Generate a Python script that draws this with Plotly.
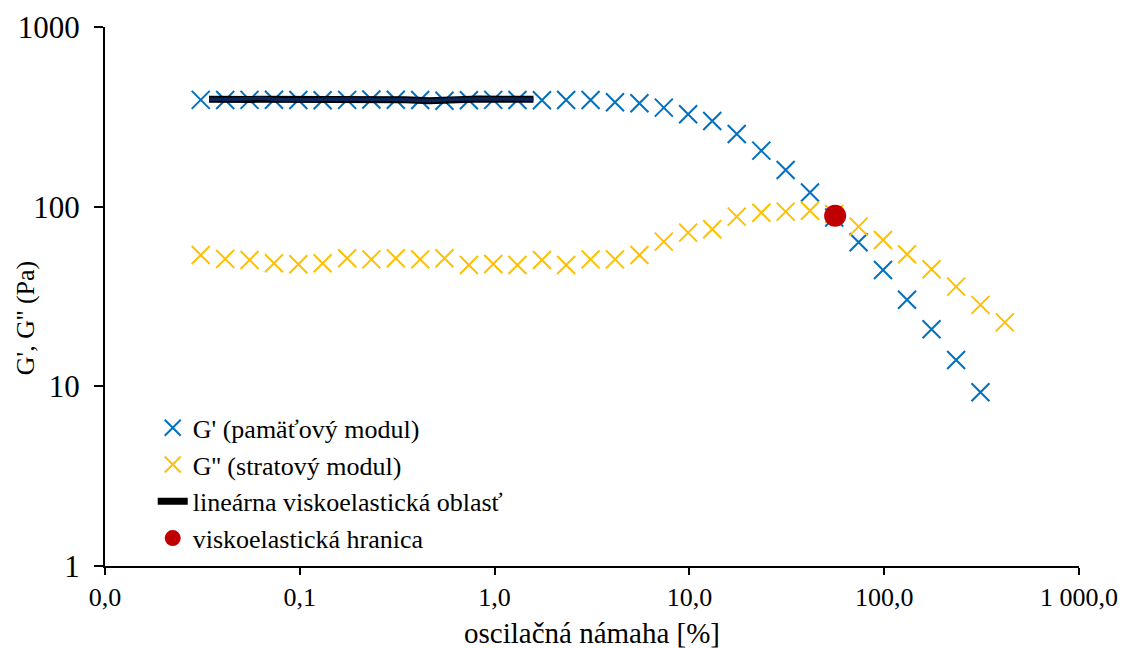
import plotly.graph_objects as go

# strain [%] for G' and G'' measurements
strain = [0.031, 0.0414, 0.0552, 0.0737, 0.0983, 0.131, 0.175, 0.233, 0.311, 0.415,
          0.553, 0.738, 0.984, 1.31, 1.75, 2.33, 3.11, 4.15, 5.54, 7.39,
          9.85, 13.1, 17.5, 23.4, 31.2, 41.6, 55.4, 73.9, 98.6, 131,
          175, 234, 312, 416]

g_storage = [393, 392, 393, 394, 392, 391, 393, 395, 394, 392,
             389, 391, 393, 392, 391, 392, 392, 381, 376, 356,
             327, 300, 254, 205, 160, 120, 87, 63.4, 44.4, 30.3,
             20.8, 14.0, 9.27]

g_loss = [53.8, 51.2, 50.5, 48.4, 47.8, 48.4, 51.6, 50.9, 51.6, 50.9,
          51.6, 47.4, 48.0, 47.4, 50.5, 47.4, 50.9, 50.9, 53.8, 63.9,
          71.7, 74.9, 88.0, 92.6, 93.8, 95.0, 91, 77.4, 65.3, 54.3,
          44.8, 35.9, 28.4, 22.7]

# linear viscoelastic region line
lve_x = [0.0342, 0.0460, 0.0619, 0.0832, 0.1117, 0.1466, 0.1950, 0.2618,
         0.3480, 0.4624, 0.6214, 0.8260, 1.0965, 1.5828]
lve_y = [396, 396, 401, 394, 394, 398, 396, 396, 394, 389, 396, 398, 396, 396]

# viscoelastic limit
limit_x = [56.0]
limit_y = [89.0]

x_ticks = [0.01, 0.1, 1, 10, 100, 1000]
x_ticklabels = ["0,0", "0,1", "1,0", "10,0", "100,0", "1 000,0"]
y_ticks = [1, 10, 100, 1000]
y_ticklabels = ["1", "10", "100", "1000"]

FONT = "Liberation Serif, Times New Roman, serif"

fig = go.Figure()
fig.add_trace(go.Scatter(
    x=strain[:len(g_storage)], y=g_storage, mode="markers",
    name="G' (pamäťový modul)",
    marker=dict(symbol="x-thin", size=18, color="#0070C0",
                line=dict(color="#0070C0", width=2)),
))
fig.add_trace(go.Scatter(
    x=strain, y=g_loss, mode="markers",
    name="G'' (stratový modul)",
    marker=dict(symbol="x-thin", size=18, color="#FFC000",
                line=dict(color="#FFC000", width=2)),
))
fig.add_trace(go.Scatter(
    x=lve_x, y=lve_y, mode="lines",
    name="lineárna viskoelastická oblasť",
    line=dict(color="black", width=7),
))
fig.add_trace(go.Scatter(
    x=lve_x, y=lve_y, mode="lines", showlegend=False,
    line=dict(color="#0B2557", width=3.5), hoverinfo="skip",
))
fig.add_trace(go.Scatter(
    x=limit_x, y=limit_y, mode="markers",
    name="viskoelastická hranica",
    marker=dict(symbol="circle", size=22, color="#C00000"),
))

fig.update_layout(
    width=1130, height=648,
    margin=dict(l=97, r=59, t=19, b=90, autoexpand=False),
    paper_bgcolor="white", plot_bgcolor="white",
    font=dict(family=FONT, size=26, color="black"),
    showlegend=True,
    legend=dict(x=0.049, y=0.30, xanchor="left", yanchor="top",
                bgcolor="rgba(0,0,0,0)", font=dict(family=FONT, size=26),
                tracegroupgap=0, itemwidth=30),
    annotations=[
        dict(text="oscilačná námaha [%]", xref="paper", yref="paper",
             x=0.5, y=-0.124, xanchor="center", yanchor="middle",
             showarrow=False, font=dict(family=FONT, size=29)),
        dict(text="G', G'' (Pa)", xref="paper", yref="paper",
             x=-0.082, y=0.46, xanchor="center", yanchor="middle",
             textangle=-90, showarrow=False, font=dict(family=FONT, size=26)),
    ],
)
fig.update_xaxes(
    type="log", range=[-2, 3], automargin=False,
    tickvals=x_ticks, ticktext=x_ticklabels,
    showgrid=False, zeroline=False,
    showline=True, linecolor="black", linewidth=2,
    ticks="outside", ticklen=7, tickwidth=2, tickcolor="black",
    tickfont=dict(family=FONT, size=26),
)
fig.update_yaxes(
    type="log", range=[0, 3], automargin=False,
    tickvals=y_ticks, ticktext=y_ticklabels,
    showgrid=False, zeroline=False,
    showline=True, linecolor="black", linewidth=2,
    ticks="outside", ticklen=9, tickwidth=2, tickcolor="black",
    ticklabelstandoff=8,
    tickfont=dict(family=FONT, size=31),
)

fig.write_html("out.html")
